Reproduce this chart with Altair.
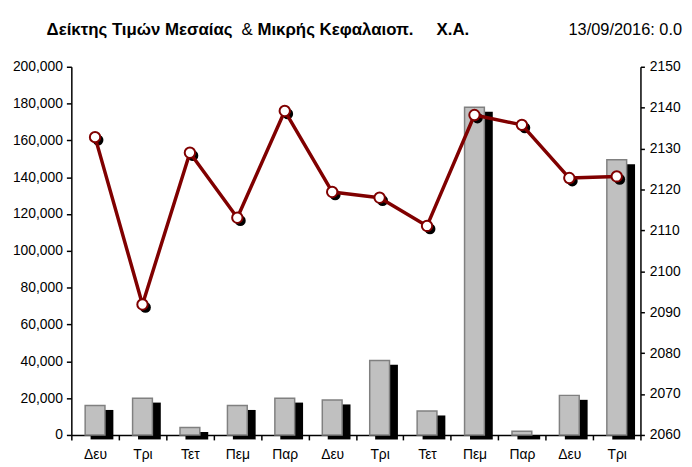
import altair as alt
import pandas as pd

# ---------------- data ----------------
days = ["Δευ", "Τρι", "Τετ", "Πεμ", "Παρ", "Δευ", "Τρι", "Τετ", "Πεμ", "Παρ", "Δευ", "Τρι"]
volume = [16000, 20000, 4000, 16000, 20000, 19000, 40500, 13000, 178000, 2000, 21500, 149500]
index_val = [2132.8, 2091.9, 2129.0, 2113.1, 2139.2, 2119.4, 2118.0, 2111.1, 2138.2, 2135.8, 2122.8, 2123.2]
left_ticks = [0, 20000, 40000, 60000, 80000, 100000, 120000, 140000, 160000, 180000, 200000]
right_ticks = [2060, 2070, 2080, 2090, 2100, 2110, 2120, 2130, 2140, 2150]
title_parts = ["Δείκτης Τιμών Μεσαίας", "&", "Μικρής Κεφαλαιοπ.", "Χ.Α."]
date_text = ["13/09/2016: 0.0"]

df = pd.DataFrame({
    "i": list(range(len(days))),
    "day": days,
    "vol": volume,
    "idx": index_val,
})

FONT = "Liberation Sans, Arial, sans-serif"
label_expr = "[" + ",".join("'%s'" % d for d in days) + "][datum.value]"

x_enc = alt.X(
    "i:O",
    scale=alt.Scale(paddingInner=0, paddingOuter=0),
    axis=alt.Axis(
        title=None, labelExpr=label_expr, labelAngle=0, tickBand="extent",
        domainColor="black", domainWidth=1.5, tickColor="black", tickWidth=1.5,
        tickSize=5, labelFont=FONT, labelFontSize=14, labelColor="black",
        labelPadding=8, grid=False,
    ),
)

y_left = alt.Y(
    "vol:Q",
    scale=alt.Scale(domain=[0, 200000], nice=False, zero=True),
    axis=alt.Axis(
        title=None, orient="left", values=left_ticks, format=",d", grid=False,
        domainColor="black", domainWidth=1.5, tickColor="black", tickWidth=1.5,
        tickSize=5, labelFont=FONT, labelFontSize=14, labelColor="black",
        labelPadding=4,
    ),
)

y_right = alt.Y(
    "idx:Q",
    scale=alt.Scale(domain=[2060, 2150], nice=False, zero=False),
    axis=alt.Axis(
        title=None, orient="right", values=right_ticks, format="d", grid=False,
        domainColor="black", domainWidth=1.5, tickColor="black", tickWidth=1.5,
        tickSize=4, labelFont=FONT, labelFontSize=14, labelColor="black",
        labelPadding=5,
    ),
)

base = alt.Chart(df)

shadow_bar = base.mark_bar(color="black", width=23, xOffset=7, yOffset=4.5).encode(x=x_enc, y=y_left)
gray_bar = base.mark_bar(color="#C0C0C0", stroke="#808080", strokeWidth=1.5, width=20).encode(x=x_enc, y=y_left)
bars = alt.layer(shadow_bar, gray_bar)

pt_shadow = base.mark_point(filled=True, color="black", size=120, opacity=1, xOffset=3, yOffset=3).encode(x=x_enc, y=y_right)
line = base.mark_line(color="#800000", strokeWidth=3.5, strokeJoin="round").encode(x=x_enc, y=y_right)
pts = base.mark_point(filled=True, fill="white", stroke="#800000", strokeWidth=2, size=110, opacity=1).encode(x=x_enc, y=y_right)
lines = alt.layer(pt_shadow, line, pts)


def text_layer(txt, x, bold, size, align="left"):
    return alt.Chart(pd.DataFrame({"t": [txt]})).mark_text(
        font=FONT, fontSize=size, fontWeight="bold" if bold else "normal",
        align=align, baseline="alphabetic", color="black",
    ).encode(text="t:N", x=alt.value(x), y=alt.value(-32.5))


t1 = text_layer(title_parts[0], -25, True, 17)
t2 = text_layer(title_parts[1], 172, False, 17)
t3 = text_layer(title_parts[2], 188, True, 17)
t4 = text_layer(title_parts[3], 369, True, 17)
t5 = text_layer(date_text[0], 617, False, 16.5, align="right")

chart = alt.layer(bars, lines, t1, t2, t3, t4, t5).resolve_scale(y="independent").properties(
    width=575, height=372,
    background="white",
    autosize=alt.AutoSizeParams(type="none"),
    padding={"left": 64, "top": 57, "right": 44, "bottom": 30},
).configure_view(
    stroke="transparent", strokeOpacity=0, strokeWidth=0
).configure_axis(
    grid=False, gridOpacity=0
).configure_axisTop(
    domainOpacity=0, tickOpacity=0, labelOpacity=0
)

chart.save("out.html", embed_options={"renderer": "svg", "actions": False})
